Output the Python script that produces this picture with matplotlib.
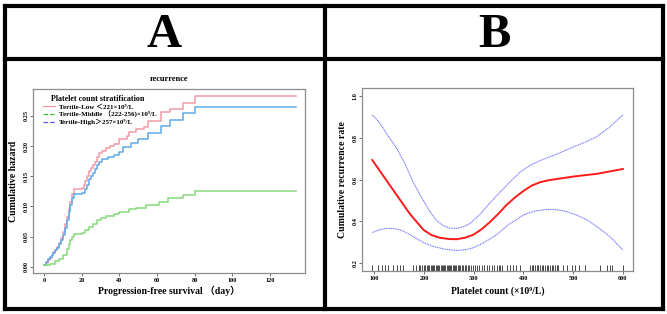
#!/usr/bin/env python
"""
Platelet count vs recurrence: cumulative hazard by tertile (A)
and smoothed cumulative recurrence rate (B).
"""

import matplotlib
matplotlib.use('Agg')
import matplotlib.pyplot as plt
from matplotlib.lines import Line2D

SERIF = ['Liberation Serif', 'Noto Sans CJK SC', 'DejaVu Serif']

# Panel A: cumulative hazard steps per tertile
low_t = [0, 1, 2, 3, 4, 5, 6, 7, 8, 9, 10, 11, 12, 13, 14, 15, 16, 20, 21, 22, 23, 24,
         25, 26, 27, 28, 29, 31, 33, 35, 37, 40, 44, 45, 49, 53, 55, 62, 67, 74, 80, 134]
low_h = [0.002, 0.006, 0.011, 0.015, 0.020, 0.024, 0.028, 0.033, 0.040, 0.048, 0.058,
         0.070, 0.083, 0.096, 0.108, 0.120, 0.129, 0.131, 0.136, 0.142, 0.151, 0.158,
         0.163, 0.168, 0.174, 0.181, 0.189, 0.192, 0.196, 0.200, 0.203, 0.212, 0.217,
         0.223, 0.228, 0.232, 0.242, 0.256, 0.262, 0.271, 0.283, 0.283]
high_t = [0, 1, 2, 3, 4, 5, 6, 7, 8, 9, 10, 11, 12, 13, 14, 15, 16, 20, 22, 23, 24, 25,
          26, 27, 28, 29, 31, 34, 37, 40, 42, 46, 50, 55, 62, 67, 74, 80, 134]
high_h = [0.002, 0.007, 0.012, 0.016, 0.020, 0.023, 0.027, 0.031, 0.037, 0.045, 0.053,
          0.064, 0.077, 0.090, 0.102, 0.113, 0.120, 0.122, 0.128, 0.136, 0.145, 0.150,
          0.156, 0.162, 0.168, 0.174, 0.178, 0.181, 0.185, 0.190, 0.198, 0.205, 0.212,
          0.222, 0.233, 0.243, 0.254, 0.264, 0.264]
mid_t = [0, 3, 6, 8, 10, 12, 13, 14, 15, 16, 20, 22, 24, 26, 28, 30, 33, 37, 40, 45,
         49, 54, 61, 66, 74, 80, 134]
mid_h = [0.002, 0.005, 0.009, 0.013, 0.020, 0.030, 0.037, 0.044, 0.050, 0.054, 0.055,
         0.060, 0.066, 0.071, 0.077, 0.081, 0.084, 0.087, 0.091, 0.095, 0.098, 0.102,
         0.108, 0.113, 0.119, 0.126, 0.126]
legend_labels = ['Tertile-Low \uff1c221\u00d710\u2079/L',
                 'Tertile-Middle \uff08222-256)\u00d710\u2079/L',
                 'Tertile-High\uff1e257\u00d710\u2079/L']

# Panel B: fitted curve with 95% band
fit_x = [96, 120, 145, 172, 199, 215, 232, 250, 266, 282, 299, 316, 333, 350, 366,
         383, 400, 417, 434, 450, 467, 501, 548, 600]
fit_y = [0.694, 0.612, 0.527, 0.435, 0.360, 0.335, 0.322, 0.316, 0.315, 0.322, 0.336,
         0.363, 0.398, 0.438, 0.479, 0.515, 0.546, 0.572, 0.588, 0.597, 0.603, 0.615,
         0.628, 0.651]
upper_x = [96, 110, 125, 145, 162, 178, 195, 212, 225, 239, 252, 266, 280, 293, 313,
           333, 353, 373, 393, 413, 440, 467, 500, 525, 548, 575, 600]
upper_y = [0.910, 0.875, 0.820, 0.750, 0.675, 0.590, 0.515, 0.447, 0.405, 0.380, 0.368,
           0.367, 0.375, 0.391, 0.435, 0.490, 0.540, 0.590, 0.635, 0.668, 0.698, 0.722,
           0.756, 0.780, 0.806, 0.855, 0.910]
lower_x = [96, 110, 125, 140, 155, 170, 185, 200, 220, 240, 266, 285, 300, 320, 346,
           370, 400, 420, 440, 460, 480, 507, 530, 548, 575, 600]
lower_y = [0.347, 0.360, 0.367, 0.366, 0.357, 0.340, 0.318, 0.298, 0.280, 0.268, 0.261,
           0.265, 0.275, 0.298, 0.336, 0.385, 0.431, 0.448, 0.456, 0.458, 0.452, 0.431,
           0.405, 0.375, 0.325, 0.264]
rug_x = [96, 108, 115, 121, 128, 138, 145, 152, 158, 178, 184, 189, 193, 197,
         200, 203, 206, 208, 211, 214, 216, 219, 221, 224, 226, 229, 231, 234, 236, 238,
         241, 243, 246, 248, 250, 253, 255, 258, 260, 263, 265, 268, 270, 273, 276, 279,
         282, 285, 288, 291, 295, 299, 303, 307, 311, 316, 321, 326, 331, 336, 341,
         346, 350, 353, 356, 366, 373, 380, 385, 393, 413, 417, 420, 424, 427, 430, 434,
         437, 440, 444, 447, 450, 454, 457, 460, 464, 467, 470, 480, 487, 497, 504, 511,
         524, 554, 568, 574, 578, 601]


def style_axes(ax):
    for s in ax.spines.values():
        s.set_color('#8c8c8c')
        s.set_linewidth(0.9)
    ax.tick_params(length=2, width=0.6, color='#555555', pad=1.5, labelsize=4.5)
    for lab in ax.get_xticklabels() + ax.get_yticklabels():
        lab.set_fontfamily(SERIF)
        lab.set_fontweight('bold')
    for lab in ax.get_yticklabels():
        lab.set_rotation(90)
        lab.set_va('center')


def plot_hazard(fig):
    ax = fig.add_axes([0.0499, 0.1296, 0.4073, 0.586])
    ax.step(low_t, low_h, where='post', color='#f29aa4', lw=1.1)
    ax.step(high_t, high_h, where='post', color='#5eaae6', lw=1.1)
    ax.step(mid_t, mid_h, where='post', color='#86d97a', lw=1.1)
    ax.set_xlim(-5.7, 138.5)
    ax.set_ylim(-0.011, 0.294)
    ax.set_xticks([0, 20, 40, 60, 80, 100, 120])
    ax.set_yticks([0.0, 0.05, 0.10, 0.15, 0.20, 0.25])
    ax.set_yticklabels(['0.00', '0.05', '0.10', '0.15', '0.20', '0.25'])
    style_axes(ax)
    ax.set_title('recurrence', fontsize=6, fontweight='bold', family=SERIF, pad=6)
    ax.set_xlabel('Progression-free survival \uff08day\uff09', fontsize=7,
                  fontweight='bold', family=SERIF, labelpad=2)
    ax.set_ylabel('Cumulative hazard', fontsize=7, fontweight='bold',
                  family=SERIF, labelpad=4)

    handles = [Line2D([], [], color='#f29aa4', lw=0.9),
               Line2D([], [], color='#33cc33', lw=0.9, ls='--'),
               Line2D([], [], color='#5a5aee', lw=0.9, ls='--')]
    leg = ax.legend(handles, legend_labels, loc='upper left', frameon=False,
                    bbox_to_anchor=(0.015, 1.0),
                    title='    Platelet count stratification',
                    prop={'family': SERIF, 'weight': 'bold', 'size': 5.0},
                    handlelength=1.8, handletextpad=0.5, labelspacing=0.15,
                    borderpad=0.3, alignment='left')
    leg.get_title().set_fontfamily(SERIF)
    leg.get_title().set_fontweight('bold')
    leg.get_title().set_fontsize(5.8)


def plot_smooth(fig):
    ax = fig.add_axes([0.5432, 0.1369, 0.4063, 0.5819])
    ax.plot(upper_x, upper_y, color='#7070ff', lw=0.8, ls=(0, (1, 0.6)))
    ax.plot(lower_x, lower_y, color='#7070ff', lw=0.8, ls=(0, (1, 0.6)))
    ax.plot(fit_x, fit_y, color='#ff1a1a', lw=1.4)
    ax.vlines(rug_x, 0, 0.035, transform=ax.get_xaxis_transform(),
              color='black', lw=0.5)
    ax.set_xlim(76, 621)
    ax.set_ylim(0.163, 1.037)
    ax.set_xticks([100, 200, 300, 400, 500, 600])
    ax.set_yticks([0.2, 0.4, 0.6, 0.8, 1.0])
    style_axes(ax)
    ax.set_xlabel('Platelet count (\u00d710\u2079/L)', fontsize=7,
                  fontweight='bold', family=SERIF, labelpad=4)
    ax.set_ylabel('Cumulative recurrence rate', fontsize=7, fontweight='bold',
                  family=SERIF, labelpad=4)


def draw_frame(fig):
    W, H = 667.0, 314.0
    lw = 3.0
    segs = [((5, 5.5), (5, 308.5)), ((662.5, 5.5), (662.5, 308.5)),
            ((5, 5.5), (662.5, 5.5)), ((5, 308.5), (662.5, 308.5)),
            ((5, 59), (662.5, 59)), ((324.5, 5.5), (324.5, 308.5))]
    for (x0, y0), (x1, y1) in segs:
        fig.add_artist(Line2D([x0 / W, x1 / W], [1 - y0 / H, 1 - y1 / H],
                              color='black', lw=lw, solid_capstyle='projecting'))
    fig.text(164 / W, 1 - 35 / H, 'A', ha='center', va='center', fontsize=35,
             fontweight='bold', family=SERIF)
    fig.text(494 / W, 1 - 35 / H, 'B', ha='center', va='center', fontsize=35,
             fontweight='bold', family=SERIF)


def main():
    fig = plt.figure(figsize=(6.67, 3.14), dpi=100)
    plot_hazard(fig)
    plot_smooth(fig)
    draw_frame(fig)
    fig.savefig('out.png', dpi=100)
    plt.close(fig)


if __name__ == '__main__':
    main()
